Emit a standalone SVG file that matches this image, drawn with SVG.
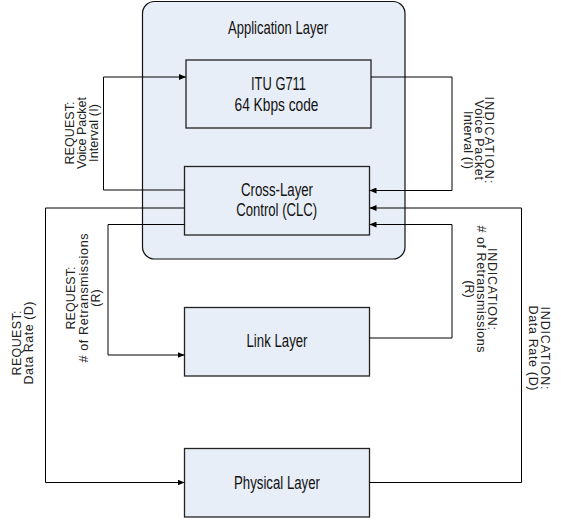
<svg xmlns="http://www.w3.org/2000/svg" width="561" height="521" viewBox="0 0 561 521">
<style>
.box{fill:#e8eef7;stroke:#222;stroke-width:1.3}
.app{fill:#e8eef7;stroke:#111;stroke-width:1.2}
.t{font-family:"Liberation Sans Narrow","Liberation Sans",Arial,sans-serif;font-size:17.5px;fill:#111;text-anchor:middle}
.l{font-family:"Liberation Sans",Arial,sans-serif;font-size:12.5px;fill:#222;text-anchor:middle}
.c{fill:none;stroke:#000;stroke-width:1}
</style>
<defs>
<marker id="ah" markerUnits="userSpaceOnUse" markerWidth="7" markerHeight="6" refX="7" refY="3" orient="auto">
<path d="M0,0 L7,3 L0,6 z" fill="#000"/>
</marker>
</defs>
<g id="application-layer">
<rect class="app" x="142.5" y="1.5" width="262.5" height="257.5" rx="12"/>
<text class="t" x="278" y="33.5" textLength="100" lengthAdjust="spacingAndGlyphs">Application Layer</text>
</g>
<g id="itu-g711">
<rect class="box" x="186" y="60" width="185" height="68"/>
<text class="t" x="278.5" y="89.5" textLength="55" lengthAdjust="spacingAndGlyphs">ITU G711</text>
<text class="t" x="276.5" y="110.5" textLength="84" lengthAdjust="spacingAndGlyphs">64 Kbps code</text>
</g>
<g id="clc">
<rect class="box" x="184.5" y="166.5" width="185" height="68.5"/>
<text class="t" x="277" y="195.5" textLength="72" lengthAdjust="spacingAndGlyphs">Cross-Layer</text>
<text class="t" x="276.7" y="215.5" textLength="81" lengthAdjust="spacingAndGlyphs">Control (CLC)</text>
</g>
<g id="link-layer">
<rect class="box" x="184.5" y="307.5" width="185" height="68.5"/>
<text class="t" x="277" y="347" textLength="61" lengthAdjust="spacingAndGlyphs">Link Layer</text>
</g>
<g id="physical-layer">
<rect class="box" x="184.5" y="448.5" width="185" height="68.5"/>
<text class="t" x="277" y="488.5" textLength="86" lengthAdjust="spacingAndGlyphs">Physical Layer</text>
</g>
<g id="connectors">
<path class="c" d="M184.5,190 H103.5 V77 H186" marker-end="url(#ah)"/>
<path class="c" d="M371,77 H452 V190.5 H369.5" marker-end="url(#ah)"/>
<path class="c" d="M184.5,208 H45.5 V482.5 H184.5" marker-end="url(#ah)"/>
<path class="c" d="M369.5,482.5 H521.5 V208 H369.5" marker-end="url(#ah)"/>
<path class="c" d="M184.5,224.5 H108 V355 H184.5" marker-end="url(#ah)"/>
<path class="c" d="M369.5,338 H452 V224.5 H369.5" marker-end="url(#ah)"/>
</g>
<g id="labels">
<g transform="translate(0,133) rotate(-90)">
<text class="l" x="0" y="73.5" textLength="63">REQUEST:</text>
<text class="l" x="0" y="85.5" textLength="72">Voice Packet</text>
<text class="l" x="0" y="97.5" textLength="58">Interval (I)</text>
</g>
<g transform="translate(561,140) rotate(90)">
<text class="l" x="0" y="76" textLength="87">INDICATION:</text>
<text class="l" x="0" y="86.5" textLength="80">Voice Packet</text>
<text class="l" x="0" y="97.5" textLength="58">Interval (I)</text>
</g>
<g transform="translate(0,298) rotate(-90)">
<text class="l" x="0" y="75" textLength="63">REQUEST:</text>
<text class="l" x="0" y="87.5" textLength="129"># of Retransmissions</text>
<text class="l" x="0" y="99.5">(R)</text>
</g>
<g transform="translate(561,289) rotate(90)">
<text class="l" x="0" y="73" textLength="82">INDICATION:</text>
<text class="l" x="0" y="84.5" textLength="127"># of Retransmissions</text>
<text class="l" x="0" y="96">(R)</text>
</g>
<g transform="translate(0,343) rotate(-90)">
<text class="l" x="0" y="21" textLength="65">REQUEST:</text>
<text class="l" x="0" y="33" textLength="83">Data Rate (D)</text>
</g>
<g transform="translate(561,348) rotate(90)">
<text class="l" x="0" y="20.5" textLength="83">INDICATION:</text>
<text class="l" x="0" y="32.5" textLength="85">Data Rate (D)</text>
</g>
</g>
</svg>
